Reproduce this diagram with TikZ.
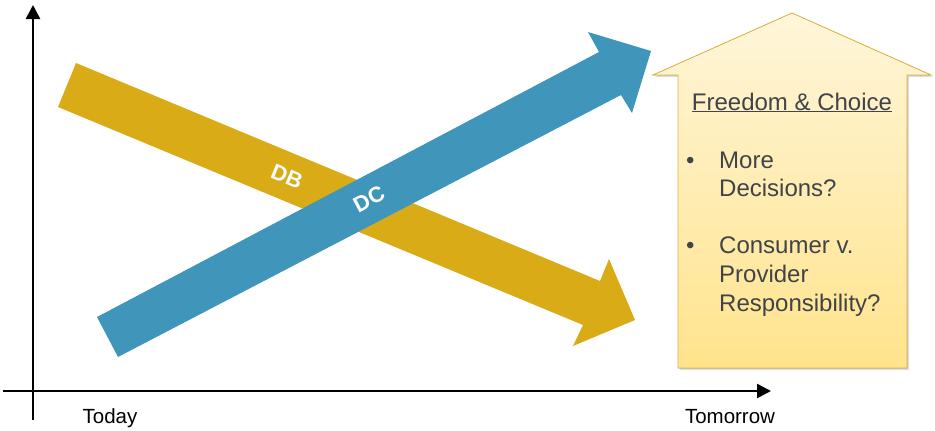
\documentclass[tikz,border=0pt]{standalone}
\usepackage{fontspec}
\setmainfont{Liberation Sans}
\usetikzlibrary{arrows.meta,shadows}
\definecolor{dbgold}{HTML}{D9AB17}
\definecolor{dcblue}{HTML}{4096BA}
\definecolor{housetop}{HTML}{FFF6DA}
\definecolor{housebot}{HTML}{FFE38C}
\definecolor{houseline}{HTML}{E2B23E}
\definecolor{txtgray}{HTML}{404448}
\tikzset{
	axis/.style={line width=2.5pt, -{Triangle[width=14pt,length=14pt]}},
	bandlabel/.style={text=white, font=\bfseries\fontsize{22}{22}\selectfont, inner sep=0pt},
	housetext/.style={text=txtgray, font=\fontsize{24}{28}\selectfont, inner sep=0pt, anchor=base west},
	timelabel/.style={font=\fontsize{20.5}{24}\selectfont, inner sep=0pt, anchor=base},
}
\begin{document}
\begin{tikzpicture}[x=1pt, y=-1pt]
		\useasboundingbox (0, 0) rectangle (935, 431);

		% axes
		\coordinate (ybot) at (33, 420);
		\coordinate (ytop) at (33, 5);
		\coordinate (xleft) at (3, 391);
		\coordinate (xright) at (771, 391);
		\draw[axis] (ybot) to (ytop);
		\draw[axis] (xleft) to (xright);

		% DB band (going down)
		\fill[dbgold] (76, 63) -- (600, 281) -- (609, 259) -- (635, 320)
			-- (573, 346) -- (583, 325) -- (58, 107) -- cycle;
			\node[bandlabel, rotate=-22.5] (db) at (287, 177) {DB};

		% DC band (going up)
		\fill[dcblue] (97, 317) -- (599, 52) -- (588, 32) -- (651, 51)
			-- (632, 113) -- (621, 95) -- (118, 357) -- cycle;
			\node[bandlabel, rotate=27.8] (dc) at (369, 199) {DC};

		% house
		\filldraw[draw=houseline, line width=.8pt, top color=housetop, bottom color=housebot,
			drop shadow={shadow xshift=2pt, shadow yshift=-2pt, opacity=.25}]
			(678, 368) -- (678, 75) -- (653, 75) -- (792, 13) -- (931, 75)
			-- (907, 75) -- (907, 368) -- cycle;
			\node[housetext, anchor=base] (title) at (792, 110) {\underline{Freedom \& Choice}};
			\node[housetext] (b1) at (686, 168) {•};
			\node[housetext] (more) at (719, 168) {More};
			\node[housetext] (decis) at (719, 196) {Decisions?};
			\node[housetext] (b2) at (686, 253) {•};
			\node[housetext] (cons) at (719, 253) {Consumer v.};
			\node[housetext] (prov) at (719, 282) {Provider};
			\node[housetext] (resp) at (719, 311) {Responsibility?};

		\node[timelabel] (today) at (110, 423) {Today};
		\node[timelabel] (tomorrow) at (730, 423) {Tomorrow};
	\end{tikzpicture}
\end{document}
